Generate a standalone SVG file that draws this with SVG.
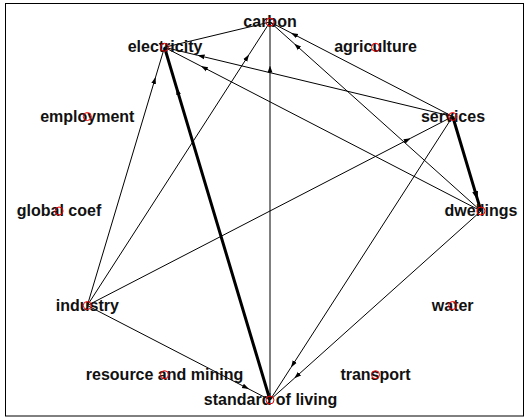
<svg xmlns="http://www.w3.org/2000/svg" width="528" height="419" viewBox="0 0 528 419">
<style>
.e{fill:none;stroke:#000;stroke-width:1}
.t{stroke-width:3;stroke:#000;fill:none}
.n circle{fill:none;stroke:#e00;stroke-width:1}
.n text{font-family:"Liberation Sans",Arial,sans-serif;font-weight:bold;font-size:16px;text-anchor:middle;fill:#111}
</style>
<defs>
<marker id="a" markerUnits="userSpaceOnUse" markerWidth="10" markerHeight="10" refX="7" refY="5" orient="auto"><path d="M0,2.6 L7,5 L0,7.4 z" fill="#000"/></marker>
<marker id="b" markerUnits="userSpaceOnUse" markerWidth="12" markerHeight="12" refX="9" refY="6" orient="auto"><path d="M0,3 L9,6 L0,9 z" fill="#000"/></marker>
</defs>
<rect x="5.5" y="3.5" width="518" height="412.5" fill="none" stroke="#000" stroke-width="1"/>
<g id="edges">
<path class="e" d="M164.5,47.3 L270,22"/>
<path class="e" marker-mid="url(#a)" d="M452.7,116.5 L197.6,55.3 L164.5,47.3"/>
<path class="e" marker-mid="url(#a)" d="M481,211 L200.9,66.1 L164.5,47.3"/>
<path class="e" marker-mid="url(#a)" d="M87.3,305.5 L155.6,77 L164.5,47.3"/>
<path class="t" marker-mid="url(#a)" d="M270,400 L176.6,87.9 L164.5,47.3"/>
<path class="e" marker-mid="url(#a)" d="M87.3,305.5 L249,54.6 L270,22"/>
<path class="e" marker-mid="url(#a)" d="M270,400 L270,65.5 L270,22"/>
<path class="e" marker-mid="url(#a)" d="M452.7,116.5 L291,32.9 L270,22"/>
<path class="e" marker-mid="url(#a)" d="M481,211 L294.3,43.7 L270,22"/>
<path class="t" marker-mid="url(#b)" d="M452.7,116.5 L477.7,200.1 L481,211"/>
<path class="e" marker-mid="url(#a)" d="M452.7,116.5 L291,367.4 L270,400"/>
<path class="e" marker-mid="url(#a)" d="M481,211 L294.3,378.3 L270,400"/>
<path class="e" marker-mid="url(#a)" d="M87.3,305.5 L249,389.1 L270,400"/>
<path class="e" marker-mid="url(#a)" d="M87.3,305.5 L410.7,138.2 L452.7,116.5"/>
</g>
<g id="carbon" class="n"><text x="270" y="27">carbon</text><circle cx="270" cy="22" r="4"/></g>
<g id="electricity" class="n"><text x="165" y="52.3">electricity</text><circle cx="164.5" cy="47.3" r="4"/></g>
<g id="agriculture" class="n"><text x="375.5" y="52.3">agriculture</text><circle cx="375.5" cy="47.3" r="4"/></g>
<g id="services" class="n"><text x="453" y="121.5">services</text><circle cx="452.7" cy="116.5" r="4"/></g>
<g id="dwellings" class="n"><text x="481" y="216">dwellings</text><circle cx="481" cy="211" r="4"/></g>
<g id="water" class="n"><text x="452.7" y="310.5">water</text><circle cx="452.7" cy="305.5" r="4"/></g>
<g id="transport" class="n"><text x="375.5" y="379.7">transport</text><circle cx="375.5" cy="374.7" r="4"/></g>
<g id="standard_of_living" class="n"><text x="270.5" y="405">standard of living</text><circle cx="270" cy="400" r="4"/></g>
<g id="resource_and_mining" class="n"><text x="164.5" y="379.7">resource and mining</text><circle cx="164.5" cy="374.7" r="4"/></g>
<g id="industry" class="n"><text x="87.3" y="310.5">industry</text><circle cx="87.3" cy="305.5" r="4"/></g>
<g id="global_coef" class="n"><text x="59" y="216">global coef</text><circle cx="59" cy="211" r="4"/></g>
<g id="employment" class="n"><text x="87.3" y="121.5">employment</text><circle cx="87.3" cy="116.5" r="4"/></g>
</svg>
